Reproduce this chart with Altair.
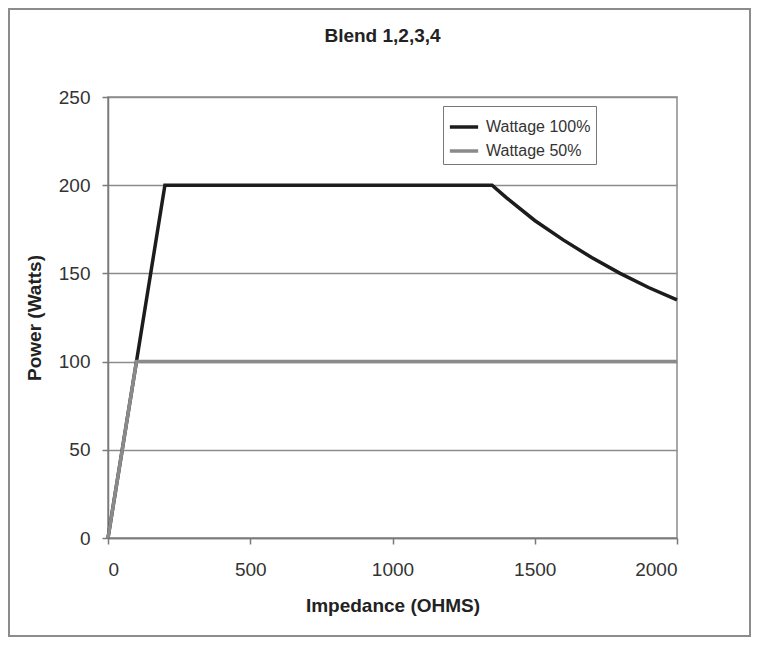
import altair as alt
import pandas as pd

# Data
ohms_100 = [0, 200, 1350, 1400, 1500, 1600, 1700, 1800, 1900, 2000]
watts_100 = [0, 200, 200, 193, 180, 169, 159, 150, 142, 135]
ohms_50 = [0, 100, 2000]
watts_50 = [0, 100, 100]
series_names = ["Wattage 100%", "Wattage 50%"]
series_colors = ["#1c1c1c", "#8a8a8a"]
x_ticks = [0, 500, 1000, 1500, 2000]
y_ticks = [0, 50, 100, 150, 200, 250]

df100 = pd.DataFrame({"ohms": ohms_100, "watts": watts_100, "series": series_names[0]})
df50 = pd.DataFrame({"ohms": ohms_50, "watts": watts_50, "series": series_names[1]})

FONT = "Liberation Sans"

x_enc = alt.X("ohms:Q", title="Impedance (OHMS)",
              scale=alt.Scale(domain=[0, 2000], nice=False),
              axis=alt.Axis(values=x_ticks, grid=False, tickSize=6, format="d",
                            labelPadding=16, titlePadding=17))
y_enc = alt.Y("watts:Q", title="Power (Watts)",
              scale=alt.Scale(domain=[0, 250], nice=False),
              axis=alt.Axis(values=y_ticks, grid=True, tickSize=6, format="d",
                            labelPadding=12, titlePadding=14))
color_enc = alt.Color("series:N",
                      scale=alt.Scale(domain=series_names, range=series_colors),
                      legend=alt.Legend(title=None, orient="none",
                                        legendX=335, legendY=9,
                                        symbolType="stroke", symbolSize=800,
                                        symbolStrokeWidth=3.5,
                                        labelFontSize=16, labelFont=FONT,
                                        labelColor="#333333",
                                        strokeColor="#777777",
                                        padding=5, rowPadding=-1,
                                        labelOffset=6,
                                        fillColor="white"))

line100 = alt.Chart(df100).mark_line(strokeWidth=3.5).encode(
    x=x_enc, y=y_enc, color=color_enc)
line50 = alt.Chart(df50).mark_line(strokeWidth=3.5).encode(
    x=x_enc, y=y_enc, color=color_enc)

frame = alt.Chart(pd.DataFrame({"k": [0]})).mark_rect(
    filled=False, stroke="#8c8c8c", strokeWidth=2).encode(
    x=alt.value(-99), x2=alt.value(642), y=alt.value(-88), y2=alt.value(539))

chart = alt.layer(frame, line100, line50).properties(
    width=569, height=441,
    title=alt.TitleParams("Blend 1,2,3,4", font=FONT, fontSize=19,
                          fontWeight="bold", color="#222222",
                          anchor="middle", dx=-10, offset=-38),
    autosize=alt.AutoSizeParams(type="none"),
    padding={"left": 100, "top": 89, "right": 74, "bottom": 99},
).configure_view(
    stroke="#8c8c8c", strokeWidth=1.5
).configure_axis(
    labelFont=FONT, labelFontSize=19, labelColor="#333333",
    titleFont=FONT, titleFontSize=19, titleFontWeight="bold", titleColor="#222222",
    domainColor="#7a7a7a", domainWidth=1.5, tickColor="#7a7a7a", tickWidth=1.5,
    gridColor="#8c8c8c", gridWidth=1.5, gridOpacity=1
)

chart.save("out.html", embed_options={"renderer": "svg", "actions": False})
